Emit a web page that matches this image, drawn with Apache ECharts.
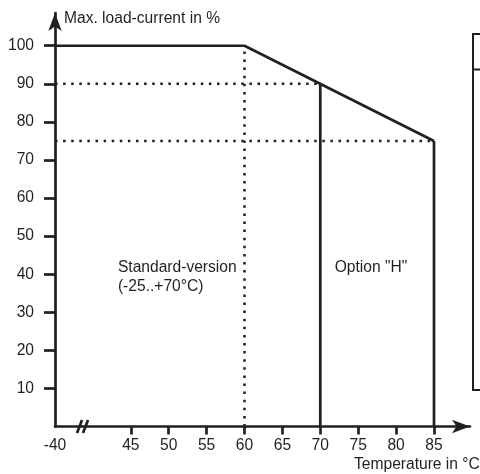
<!DOCTYPE html>
<html>
<head>
<meta charset="utf-8">
<script src="https://cdn.jsdelivr.net/npm/echarts@6/dist/echarts.min.js"></script>
<style>
html,body{margin:0;padding:0;background:#fff;}
#c{width:480px;height:474px;}
</style>
</head>
<body>
<div id="c"></div>
<script>
// ---- data ----
const curveTemp = [-40, 60, 85];          // °C
const curveLoad = [100, 100, 75];         // %
const level90Temp = [-40, 70];
const level90Load = [90, 90];
const level75Temp = [-40, 85];
const level75Load = [75, 75];
const stdLimitTemp = [60, 60];
const stdLimitLoad = [0, 100];
const optH70Temp = [70, 70];
const optH70Load = [0, 90];
const optH85Temp = [85, 85];
const optH85Load = [0, 75];
const xTickValues = [45, 50, 55, 60, 65, 70, 75, 80, 85];
const yTickValues = [10, 20, 30, 40, 50, 60, 70, 80, 90, 100];
const regionLabels = ['Standard-version\n(-25..+70°C)', 'Option "H"'];
const regionLabelTemp = [43.3, 71.9];
const regionLabelLoad = [39.2, 41.7];

// broken axis: -40 °C is drawn at axis position 35
const BREAK_FROM = -40, BREAK_POS = 35;
const pos = t => (t === BREAK_FROM ? BREAK_POS : t);
const pts = (xs, ys) => xs.map((x, i) => [pos(x), ys[i]]);

const INK = '#231f20';
const FONT = 'Liberation Sans, Arial, sans-serif';
const FS = 15.6;
const LW = 2.7;

const chart = echarts.init(document.getElementById('c'), null, {renderer: 'canvas'});

const lineSeries = (data, dotted, z) => ({
  type: 'line', data, symbol: 'none', silent: true, animation: false, z: z,
  clip: false,
  lineStyle: {color: INK, width: dotted ? 2.5 : LW, type: dotted ? [2.5, 5.6] : 'solid'}
});

chart.setOption({
  animation: false,
  backgroundColor: '#fff',
  grid: {left: 55, right: 10, top: 13, bottom: 47.5, containLabel: false, outerBoundsMode: 'none'},
  xAxis: {
    type: 'value', min: BREAK_POS, max: 89.75, interval: 5,
    splitLine: {show: false},
    axisLine: {show: true, onZero: false, symbol: ['none', 'arrow'], symbolSize: [10, 18],
      lineStyle: {color: INK, width: LW}},
    axisTick: {show: true, customValues: xTickValues, length: 8, lineStyle: {color: INK, width: LW}},
    axisLabel: {customValues: [BREAK_POS].concat(xTickValues), margin: 11, fontSize: FS, color: INK, fontFamily: FONT,
      formatter: v => (v === BREAK_POS ? String(BREAK_FROM) : String(v))},
    name: 'Temperature in °C', nameLocation: 'end', nameGap: -116,
    nameTextStyle: {fontSize: FS, color: INK, fontFamily: FONT, align: 'left', verticalAlign: 'top', padding: [30, 0, 0, 0]}
  },
  yAxis: {
    type: 'value', min: 0, max: 108.6, interval: 10,
    splitLine: {show: false},
    axisLine: {show: true, symbol: ['none', 'arrow'], symbolSize: [10, 18],
      lineStyle: {color: INK, width: LW}},
    axisTick: {show: true, customValues: yTickValues, length: 11, lineStyle: {color: INK, width: LW}},
    axisLabel: {customValues: yTickValues, margin: 21, fontSize: FS, color: INK, fontFamily: FONT},
    name: 'Max. load-current in %', nameLocation: 'end', nameGap: -6,
    nameTextStyle: {fontSize: FS, color: INK, fontFamily: FONT, align: 'left', verticalAlign: 'middle', padding: [0, 0, 0, 9]}
  },
  series: [
    lineSeries(pts(level90Temp, level90Load), true, 2),
    lineSeries(pts(level75Temp, level75Load), true, 2),
    lineSeries(pts(stdLimitTemp, stdLimitLoad), true, 2),
    lineSeries(pts(optH70Temp, optH70Load), false, 3),
    lineSeries(pts(optH85Temp, optH85Load), false, 3),
    lineSeries(pts(curveTemp, curveLoad), false, 4),
    {
      type: 'custom', silent: true, clip: false, z: 5,
      data: [[38.63, 0]],
      renderItem: (params, api) => {
        const p = api.coord([api.value(0), api.value(1)]);
        const mk = dx => ({type: 'line', shape: {x1: p[0] + dx - 2.5, y1: p[1] + 6.5, x2: p[0] + dx + 2.5, y2: p[1] - 6.5},
          style: {stroke: INK, lineWidth: LW}});
        return {type: 'group', children: [mk(-3), mk(3)]};
      }
    },
    {
      type: 'custom', silent: true, clip: false, z: 5,
      data: regionLabels.map((t, i) => [regionLabelTemp[i], regionLabelLoad[i], i]),
      renderItem: (params, api) => {
        const p = api.coord([api.value(0), api.value(1)]);
        return {type: 'text', x: p[0], y: p[1],
          style: {text: regionLabels[api.value(2)], fill: INK, fontSize: FS, fontFamily: FONT,
            lineHeight: 19, align: 'left', verticalAlign: 'middle'}};
      }
    }
  ],
  graphic: [
    {type: 'rect', shape: {x: 473, y: 34, width: 40, height: 356}, style: {fill: 'none', stroke: INK, lineWidth: 2}},
    {type: 'line', shape: {x1: 473, y1: 69.5, x2: 480, y2: 69.5}, style: {stroke: INK, lineWidth: 2}}
  ]
});
</script>
</body>
</html>
